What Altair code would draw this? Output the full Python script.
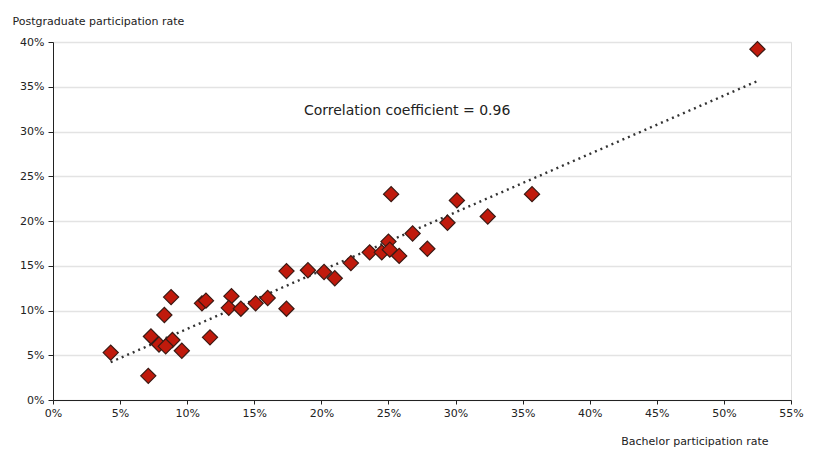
import altair as alt
import pandas as pd

bachelor = [4.3, 7.1, 7.3, 7.9, 8.3, 8.8, 8.9, 8.4, 9.6, 11.1, 11.4, 11.7, 13.3, 13.1, 14.0,
            15.1, 16.0, 17.4, 17.4, 19.0, 20.2, 21.0, 22.2, 23.6, 24.5, 25.0, 25.1, 25.8,
            25.2, 26.8, 27.9, 29.4, 30.1, 32.4, 35.7, 52.5]
postgrad = [5.3, 2.7, 7.1, 6.2, 9.5, 11.5, 6.7, 6.0, 5.5, 10.8, 11.1, 7.0, 11.6, 10.3, 10.2,
            10.8, 11.4, 10.2, 14.4, 14.5, 14.3, 13.6, 15.3, 16.5, 16.5, 17.7, 16.8, 16.1,
            23.0, 18.6, 16.9, 19.8, 22.3, 20.5, 23.0, 39.2]
x_ticks = [0, 5, 10, 15, 20, 25, 30, 35, 40, 45, 50, 55]
y_ticks = [0, 5, 10, 15, 20, 25, 30, 35, 40]
annotation = "Correlation coefficient = 0.96"
ann_x = [18.7]
ann_y = [32.3]

df = pd.DataFrame({"b": [v / 100 for v in bachelor], "p": [v / 100 for v in postgrad]})
ann = pd.DataFrame({"x": [v / 100 for v in ann_x], "y": [v / 100 for v in ann_y], "t": [annotation]})

FONT = "DejaVu Sans"
xs = alt.Scale(domain=[0, 0.55], nice=False, zero=False)
ys = alt.Scale(domain=[0, 0.40], nice=False, zero=False)

xaxis = alt.Axis(values=[v / 100 for v in x_ticks], format=".0%", grid=False,
                 title="Bachelor participation rate", titleAnchor="end", titleAlign="right",
                 titleX=715, titleY=44, titleBaseline="alphabetic",
                 titleFont=FONT, titleFontSize=11, titleFontWeight="normal", titleColor="#222",
                 labelFont=FONT, labelFontSize=11, labelColor="#222", labelPadding=3,
                 tickSize=4, tickColor="#222", domainColor="#222", labelFlush=False)
yaxis = alt.Axis(values=[v / 100 for v in y_ticks], format=".0%", grid=True, gridColor="#e3e3e3",
                 gridWidth=1.5,
                 title="Postgraduate participation rate", titleAngle=0, titleAlign="left",
                 titleX=-41, titleY=-18, titleBaseline="alphabetic",
                 titleFont=FONT, titleFontSize=11, titleFontWeight="normal", titleColor="#222",
                 labelFont=FONT, labelFontSize=11, labelColor="#222", labelPadding=4,
                 tickSize=5, tickColor="#222", domainColor="#222", labelFlush=False)

base = alt.Chart(df)
trend = base.transform_regression("b", "p").mark_line(
    color="#333", strokeDash=[2, 4], strokeWidth=2.4
).encode(x=alt.X("b:Q", scale=xs, axis=xaxis), y=alt.Y("p:Q", scale=ys, axis=yaxis))

pts = base.mark_point(shape="diamond", filled=True, size=230, fill="#c01a0c",
                      stroke="#3a1a14", strokeWidth=1.2, opacity=1).encode(
    x=alt.X("b:Q", scale=xs), y=alt.Y("p:Q", scale=ys))

txt = alt.Chart(ann).mark_text(align="left", baseline="middle", font=FONT, fontSize=14,
                               color="#222").encode(
    x=alt.X("x:Q", scale=xs), y=alt.Y("y:Q", scale=ys), text="t:N")

chart = alt.layer(trend, pts, txt).properties(
    width=738, height=358,
    autosize=alt.AutoSizeParams(type="none"),
    padding={"left": 45, "top": 34, "right": 14, "bottom": 50},
).configure_view(stroke=None).configure(background="white")

chart.save("out.html", embed_options={"renderer": "svg", "actions": False})
